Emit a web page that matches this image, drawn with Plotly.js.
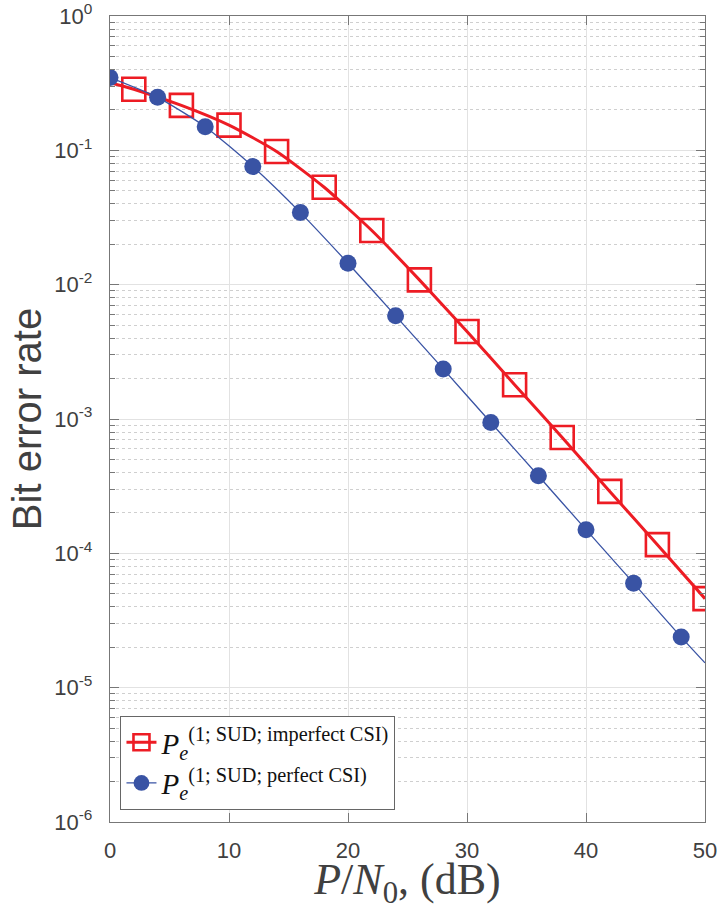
<!DOCTYPE html>
<html>
<head>
<meta charset="utf-8">
<script src="https://cdn.plot.ly/plotly-3.0.1.min.js"></script>
<style>html,body{margin:0;padding:0;background:#fff;}#chart{width:719px;height:910px;}</style>
</head>
<body>
<div id="chart"></div>
<script>
// P/N0 (dB) sample points of each curve
const imperfectX = [0, 2, 6, 10, 14, 18, 22, 26, 30, 34, 38, 42, 46, 50];
const imperfectY = [0.319, 0.285, 0.216, 0.154, 0.098, 0.0531, 0.0253, 0.01086, 0.00448, 0.00180, 0.000729, 0.000289, 0.000116, 0.0000460];
const imperfectMarked = [0, 1, 1, 1, 1, 1, 1, 1, 1, 1, 1, 1, 1, 1];

const perfectX = [0, 4, 8, 12, 16, 20, 24, 28, 32, 36, 40, 44, 48, 50];
const perfectY = [0.348, 0.248, 0.150, 0.0757, 0.0344, 0.01445, 0.00586, 0.00236, 0.000942, 0.000378, 0.000150, 0.0000600, 0.0000238, 0.0000153];
const perfectMarked = [1, 1, 1, 1, 1, 1, 1, 1, 1, 1, 1, 1, 1, 0];

const seriesNames = [
  '<i>P</i><sub><i>e</i></sub><sup>(1; SUD; imperfect CSI)</sup>',
  '<i>P</i><sub><i>e</i></sub><sup>(1; SUD; perfect CSI)</sup>'
];

const xTickVals = [0, 10, 20, 30, 40, 50];
const yTickVals = [1e-6, 1e-5, 1e-4, 1e-3, 1e-2, 1e-1, 1];
const yTickText = ['10<sup>-6</sup>', '10<sup>-5</sup>', '10<sup>-4</sup>', '10<sup>-3</sup>', '10<sup>-2</sup>', '10<sup>-1</sup>', '10<sup>0</sup>'];

const RED = 'rgb(237,28,36)';
const BLUE = 'rgb(57,83,164)';
const AXIS = '#777777';
const SANS = 'Liberation Sans, Arial, sans-serif';
const SERIF = 'Liberation Serif, Times New Roman, serif';

const traces = [
  {
    x: imperfectX, y: imperfectY, name: seriesNames[0],
    mode: 'lines+markers',
    line: {color: RED, width: 3, shape: 'spline', smoothing: 0.6},
    marker: {symbol: 'square-open', opacity: 1, size: imperfectMarked.map(m => m ? 23 : 0), color: RED, line: {color: RED, width: 2.6}}
  },
  {
    x: perfectX, y: perfectY, name: seriesNames[1],
    mode: 'lines+markers',
    line: {color: BLUE, width: 1.3, shape: 'spline', smoothing: 0.6},
    marker: {symbol: 'circle', opacity: 1, size: perfectMarked.map(m => m ? 17 : 0), color: BLUE, line: {width: 0}}
  }
];

const layout = {
  width: 719, height: 910,
  paper_bgcolor: '#ffffff', plot_bgcolor: '#ffffff',
  margin: {l: 110, r: 14, t: 16, b: 88},
  showlegend: true,
  legend: {
    x: 0.0176, y: 0.015, xanchor: 'left', yanchor: 'bottom',
    bgcolor: '#ffffff', bordercolor: '#666666', borderwidth: 1,
    font: {family: SERIF, size: 29, color: '#111111'},
    tracegroupgap: 0
  },
  xaxis: {
    type: 'linear', range: [0, 50],
    tickmode: 'array', tickvals: xTickVals,
    ticks: 'inside', ticklen: 9, tickcolor: AXIS, tickwidth: 1,
    showline: true, linecolor: AXIS, linewidth: 1.2, mirror: 'ticks',
    showgrid: true, gridcolor: '#e2e2e2', gridwidth: 1,
    zeroline: false,
    tickfont: {family: SANS, size: 22, color: '#404040'},
    ticklabelstandoff: 8,
    title: {text: '<i>P</i>/<i>N</i><sub>0</sub>, (dB)', font: {family: SERIF, size: 44, color: '#404040'}, standoff: 15}
  },
  yaxis: {
    type: 'log', range: [-6, 0],
    tickmode: 'array', tickvals: yTickVals, ticktext: yTickText,
    ticks: 'inside', ticklen: 9, tickcolor: AXIS, tickwidth: 1,
    showline: true, linecolor: AXIS, linewidth: 1.2, mirror: 'ticks',
    showgrid: true, gridcolor: '#e2e2e2', gridwidth: 1,
    zeroline: false,
    tickfont: {family: SANS, size: 22, color: '#404040'},
    ticklabelstandoff: 12,
    minor: {dtick: 'D1', showgrid: true, griddash: 'dot', gridcolor: '#cfcfcf', gridwidth: 1, ticks: 'inside', ticklen: 5, tickcolor: AXIS},
    title: {text: 'Bit error rate', font: {family: SANS, size: 40, color: '#404040'}, standoff: 0}
  }
};

Plotly.newPlot('chart', traces, layout, {displayModeBar: false, staticPlot: true});
</script>
</body>
</html>
